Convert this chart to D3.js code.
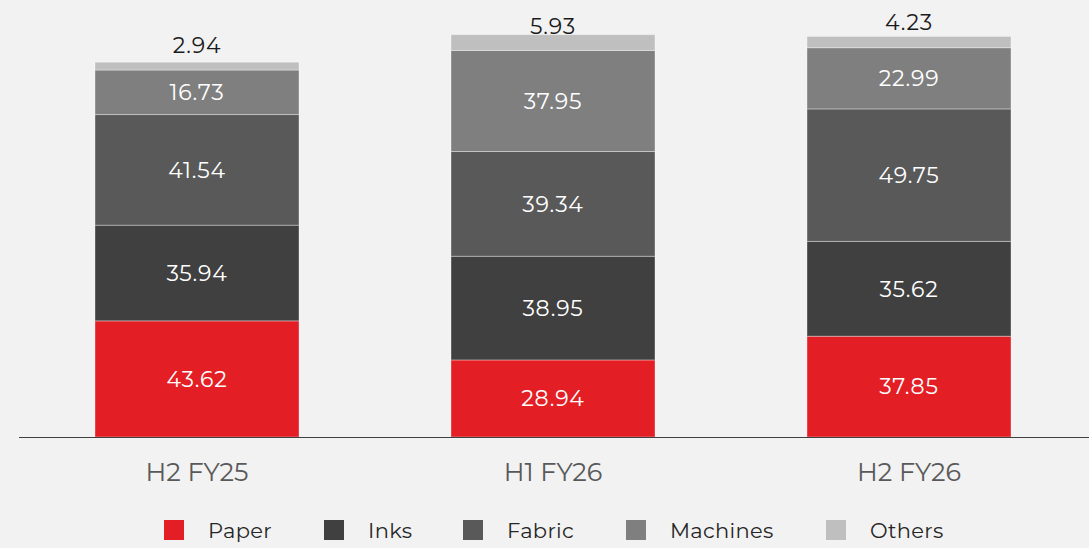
<!DOCTYPE html>
<html><head><meta charset="utf-8">
<script src="https://cdn.jsdelivr.net/npm/d3@7/dist/d3.min.js"></script>
<style>body{margin:0;background:#f2f2f2;}svg{display:block;}</style>
</head><body>
<svg id="c" width="1089" height="548"></svg>
<script>
const categories = ["H2 FY25", "H1 FY26", "H2 FY26"];
const seriesNames = ["Paper", "Inks", "Fabric", "Machines", "Others"];
const paper = [43.62, 28.94, 37.85];
const inks = [35.94, 38.95, 35.62];
const fabric = [41.54, 39.34, 49.75];
const machines = [16.73, 37.95, 22.99];
const others = [2.94, 5.93, 4.23];
const colors = ["#e31e24", "#404040", "#595959", "#7f7f7f", "#bfbfbf"];
const legendX = [164, 324, 463, 626, 826];
const topLabelGap = [9, 1, 6];

const font = "Montserrat, 'DejaVu Sans', sans-serif";
const rows = categories.map((c, i) => ({cat: c, Paper: paper[i], Inks: inks[i], Fabric: fabric[i], Machines: machines[i], Others: others[i]}));
const stack = d3.stack().keys(seriesNames)(rows);

const svg = d3.select("#c");
svg.append("rect").attr("width", 1089).attr("height", 548).attr("fill", "#f2f2f2");

const x = d3.scaleBand().domain(categories).range([19, 1087]).paddingInner(0.427).paddingOuter(0.2135);
const y = d3.scaleLinear().domain([0, 160]).range([437, 11]);

const g = svg.append("g");
stack.forEach((s, si) => {
  g.selectAll(null).data(s).enter().append("rect")
    .attr("x", d => x(d.data.cat))
    .attr("width", x.bandwidth())
    .attr("y", d => y(d[1]))
    .attr("height", d => y(d[0]) - y(d[1]))
    .attr("fill", colors[si])
    .attr("stroke", "rgba(255,255,255,0.35)")
    .attr("stroke-width", 1);
});

// labels
stack.forEach((s, si) => {
  const last = si === seriesNames.length - 1;
  g.selectAll(null).data(s).enter().append("text")
    .attr("x", d => x(d.data.cat) + x.bandwidth() / 2)
    .attr("y", (d, i) => last ? y(d[1]) - topLabelGap[i] : (y(d[0]) + y(d[1])) / 2)
    .attr("dy", last ? 0 : "0.35em")
    .attr("text-anchor", "middle")
    .attr("font-family", font)
    .attr("font-size", 22)
    .attr("letter-spacing", "0.8px")
    .attr("fill", last ? "#1a1a1a" : "#ffffff")
    .text(d => (d[1] - d[0]).toFixed(2));
});

// axis
const xAxis = svg.append("g").attr("transform", "translate(0,437)")
  .call(d3.axisBottom(x).tickSize(0).tickPadding(0));
xAxis.select(".domain").attr("d", "M19,0.5H1089").attr("stroke", "#404040").attr("stroke-width", 1.2);
xAxis.selectAll("text").attr("y", 44).attr("dy", 0)
  .attr("font-family", font).attr("font-size", 25.5).attr("fill", "#595959");

// legend
const leg = svg.append("g");
seriesNames.forEach((n, i) => {
  leg.append("rect").attr("x", legendX[i]).attr("y", 520).attr("width", 20).attr("height", 20).attr("fill", colors[i]);
  leg.append("text").attr("x", legendX[i] + 44).attr("y", 538)
    .attr("font-family", font).attr("font-size", 21).attr("letter-spacing", "0.3px").attr("fill", "#262626").text(n);
});
</script>
</body></html>
